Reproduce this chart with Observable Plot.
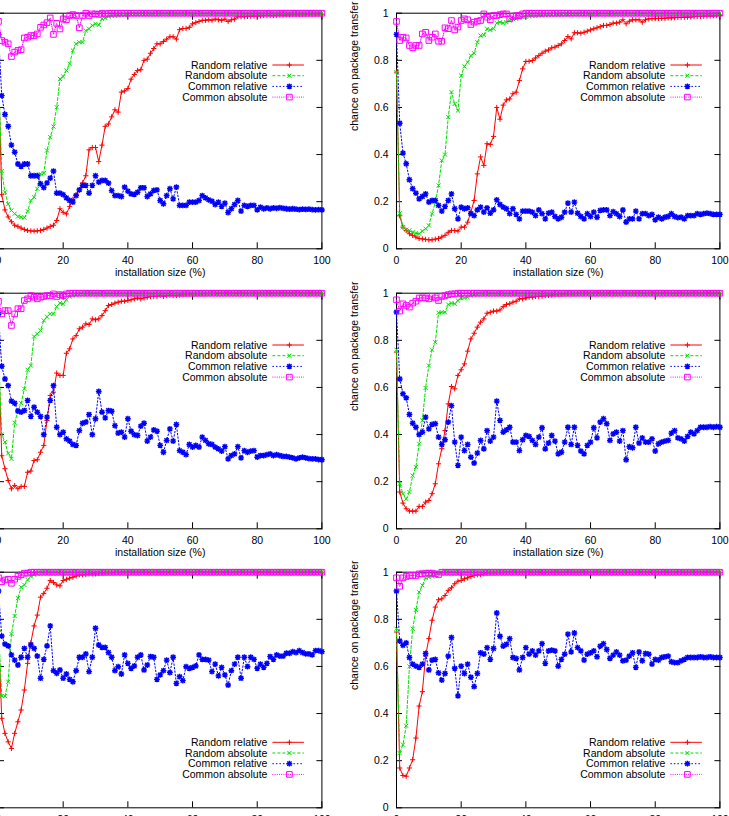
<!DOCTYPE html>
<html><head><meta charset="utf-8">
<script src="https://cdn.jsdelivr.net/npm/d3@7"></script>
<script src="https://cdn.jsdelivr.net/npm/@observablehq/plot@0.6"></script>
<style>
html,body{margin:0;padding:0;background:#fff;overflow:hidden;}
#wrap{position:relative;width:729px;height:816px;overflow:hidden;background:#fff;}
.panel{position:absolute;}
.panel svg{max-width:none !important;background:transparent !important;}
</style></head><body><div id="wrap"></div>
<script>
// ---------- shared labels / ticks ----------
const seriesNames = ["Random relative", "Random absolute", "Common relative", "Common absolute"];
const xTicks = [0, 20, 40, 60, 80, 100];
const yTicks = [0, 0.2, 0.4, 0.6, 0.8, 1];
const xLabel = "installation size (%)";
const yLabel = "chance on package transfer";
const installationSize = d3.range(0, 101); // x = 0..100 %

// ---------- panel 1 (top left) ----------
const p1RandomRelative = [.75,.23,.165,.135,.115,.1,.095,.088,.082,.078,
 .076,.075,.076,.078,.082,.088,.095,.1,.12,.17,
 .155,.148,.18,.21,.23,.25,.28,.31,.42,.43,
 .43,.37,.44,.52,.53,.56,.59,.58,.665,.67,
 .68,.72,.74,.757,.76,.8,.805,.83,.85,.87,
 .87,.88,.89,.9,.9,.89,.93,.935,.935,.94,
 .955,.96,.965,.97,.97,.972,.97,.975,.972,.97,
 .975,.965,.972,.975,.985,.985,.985,.986,.987,.988,
 .988,.989,.99,.99,.99,.99,.991,.992,.992,.993,
 .993,.994,.994,.994,.995,.995,.995,.995,.996,.996,
 .996];
const p1RandomAbsolute = [.75,.33,.24,.19,.163,.149,.137,.134,.132,.16,
 .205,.219,.255,.318,.321,.417,.474,.519,.601,.721,
 .731,.757,.785,.842,.87,.877,.877,.926,.934,.948,
 .955,.95,.976,.98,.985,.988,.99,.99,.992,.993,
 .995,.996,.997,.997,.998,.998,.998,.999,.999,.999,
 1,1,1,1,1,1,1,1,1,1, 1,1,1,1,1,1,1,1,1,1, 1,1,1,1,1,1,1,1,1,1,
 1,1,1,1,1,1,1,1,1,1, 1,1,1,1,1,1,1,1,1,1, 1];
const p1CommonRelative = [.91,.65,.57,.52,.44,.41,.36,.35,.36,.36,
 .31,.31,.31,.276,.26,.28,.3,.33,.236,.236,
 .23,.216,.205,.198,.226,.25,.269,.269,.236,.269,
 .31,.283,.29,.29,.279,.247,.226,.226,.222,.262,
 .245,.233,.231,.24,.259,.259,.222,.233,.248,.25,
 .205,.191,.226,.255,.212,.262,.184,.184,.184,.198,
 .198,.198,.205,.226,.216,.208,.202,.188,.198,.18,
 .194,.154,.17,.188,.205,.16,.184,.18,.184,.184,
 .165,.177,.17,.174,.17,.174,.172,.175,.172,.17,
 .168,.17,.168,.166,.168,.167,.168,.166,.165,.166,
 .165];
const p1CommonAbsolute = [.965,.884,.877,.87,.816,.835,.842,.845,.895,.898,
 .905,.905,.912,.94,.95,.96,.98,.91,.957,.933,
 .976,.972,.99,.994,.99,.938,.99,1,.99,.997,
 .997,.995,1,.997,1,1,1,1,1,1,
 1,1,1,1,1,1,1,1,1,1, 1,1,1,1,1,1,1,1,1,1, 1,1,1,1,1,1,1,1,1,1,
 1,1,1,1,1,1,1,1,1,1, 1,1,1,1,1,1,1,1,1,1, 1,1,1,1,1,1,1,1,1,1, 1];

// ---------- panel 2 (top right) ----------
const p2RandomRelative = [.75,.14,.092,.078,.064,.057,.05,.044,.042,.04,
 .038,.038,.041,.044,.05,.057,.07,.078,.078,.075,
 .092,.092,.113,.156,.205,.318,.39,.354,.446,.443,
 .477,.6,.55,.61,.632,.636,.658,.665,.714,.764,
 .795,.796,.799,.81,.82,.83,.839,.844,.853,.856,
 .863,.87,.884,.901,.891,.917,.917,.915,.919,.924,
 .929,.934,.938,.943,.948,.948,.952,.958,.958,.962,
 .972,.955,.966,.972,.972,.972,.962,.972,.976,.977,
 .977,.978,.978,.979,.98,.98,.981,.982,.982,.983,
 .983,.984,.985,.986,.986,.987,.988,.988,.989,.99,
 .99];
const p2RandomAbsolute = [.75,.151,.092,.081,.078,.071,.066,.064,.075,.085,
 .099,.149,.198,.269,.375,.4,.559,.665,.615,.587,
 .735,.774,.792,.82,.83,.877,.905,.908,.934,.929,
 .934,.958,.962,.958,.962,.969,.976,.976,.98,.983,
 .986,.986,.988,.988,.99,.99,.991,.992,.993,.993,
 .994,.995,.995,.996,.996,.997,.998,.998,.998,.999,
 1,1,1,1,1,1,1,1,1,1, 1,1,1,1,1,1,1,1,1,1, 1,1,1,1,1,1,1,1,1,1,
 1,1,1,1,1,1,1,1,1,1, 1];
const p2CommonRelative = [.91,.533,.406,.361,.293,.255,.236,.212,.222,.233,
 .198,.205,.205,.184,.16,.18,.205,.233,.17,.127,
 .177,.17,.174,.149,.141,.165,.177,.156,.174,.151,
 .165,.208,.188,.177,.17,.149,.17,.146,.127,.16,
 .16,.16,.156,.141,.165,.149,.127,.151,.156,.137,
 .127,.134,.156,.194,.156,.198,.151,.137,.127,.149,
 .137,.156,.134,.163,.165,.165,.141,.158,.149,.137,
 .165,.113,.127,.127,.16,.127,.149,.149,.141,.146,
 .123,.134,.127,.134,.137,.149,.137,.132,.134,.127,
 .141,.141,.141,.149,.146,.149,.151,.149,.146,.146,
 .146];
const p2CommonAbsolute = [.965,.884,.898,.895,.863,.853,.863,.863,.912,.919,
 .884,.898,.912,.881,.881,.938,.934,.969,.929,.941,
 .969,.976,.972,.952,.962,.966,.969,.997,.983,.972,
 .99,.99,.994,.997,.997,.976,.986,.99,.99,.997,
 1,1,1,1,1,1,1,1,1,1, 1,1,1,1,1,1,1,1,1,1, 1,1,1,1,1,1,1,1,1,1,
 1,1,1,1,1,1,1,1,1,1, 1,1,1,1,1,1,1,1,1,1, 1,1,1,1,1,1,1,1,1,1, 1];

// ---------- panel 3 (middle left) ----------
const p3RandomRelative = [.75,.31,.255,.205,.17,.184,.17,.18,.18,.24,
 .245,.29,.293,.325,.354,.46,.566,.58,.661,.651,
 .651,.745,.764,.806,.82,.849,.856,.87,.867,.891,
 .887,.891,.905,.926,.948,.952,.958,.962,.966,.966,
 .969,.972,.976,.98,.976,.98,.983,.986,.986,.987,
 .99,.987,.99,.992,.99,.99,.992,.994,.995,.996,
 .997,.997,.998,.998,.998,.999,.999,.999,1,1,
 1,1,1,1,1,1,1,1,1,1, 1,1,1,1,1,1,1,1,1,1, 1,1,1,1,1,1,1,1,1,1, 1];
const p3RandomAbsolute = [.75,.4,.368,.32,.297,.45,.5,.533,.594,.675,
 .693,.816,.827,.842,.884,.9,.912,.912,.943,.958,
 .955,.972,.986,.99,.994,.997,1,1,1,1,
 1,1,1,1,1,1,1,1,1,1, 1,1,1,1,1,1,1,1,1,1, 1,1,1,1,1,1,1,1,1,1,
 1,1,1,1,1,1,1,1,1,1, 1,1,1,1,1,1,1,1,1,1, 1,1,1,1,1,1,1,1,1,1,
 1,1,1,1,1,1,1,1,1,1, 1];
const p3CommonRelative = [.91,.69,.636,.608,.542,.533,.5,.495,.502,.545,
 .477,.516,.495,.477,.4,.474,.545,.608,.431,.4,
 .41,.382,.372,.358,.354,.417,.448,.453,.485,.4,
 .467,.583,.495,.471,.502,.499,.438,.406,.41,.389,
 .467,.414,.4,.396,.436,.448,.372,.389,.42,.414,
 .354,.325,.375,.424,.372,.443,.332,.325,.315,.358,
 .347,.354,.347,.389,.375,.361,.358,.347,.339,.33,
 .349,.297,.311,.318,.349,.301,.332,.325,.33,.332,
 .304,.311,.311,.315,.318,.311,.315,.311,.307,.307,
 .304,.301,.297,.301,.304,.301,.298,.297,.297,.294,
 .293];
const p3CommonAbsolute = [.965,.912,.926,.926,.863,.912,.934,.934,.969,.976,
 .99,.983,.976,.983,.986,.99,.99,.997,.986,.994,
 .99,.997,1,1,1,1,1,1,1,1,
 1,1,1,1,1,1,1,1,1,1, 1,1,1,1,1,1,1,1,1,1, 1,1,1,1,1,1,1,1,1,1,
 1,1,1,1,1,1,1,1,1,1, 1,1,1,1,1,1,1,1,1,1, 1,1,1,1,1,1,1,1,1,1,
 1,1,1,1,1,1,1,1,1,1, 1];

// ---------- panel 4 (middle right) ----------
const p4RandomRelative = [.75,.156,.109,.085,.075,.075,.075,.095,.095,.113,
 .12,.149,.191,.276,.34,.417,.53,.604,.594,.651,
 .675,.7,.754,.806,.83,.856,.877,.891,.915,.919,
 .924,.924,.929,.943,.952,.955,.962,.966,.976,.976,
 .98,.983,.983,.986,.986,.987,.99,.991,.992,.994,
 .995,.996,.997,.998,.998,.998,.999,.999,.999,1,
 1,1,1,1,1,1,1,1,1,1, 1,1,1,1,1,1,1,1,1,1, 1,1,1,1,1,1,1,1,1,1,
 1,1,1,1,1,1,1,1,1,1, 1];
const p4RandomAbsolute = [.76,.191,.149,.127,.156,.226,.262,.361,.46,.598,
 .693,.76,.792,.917,.919,.919,.952,.958,.955,.969,
 .98,.98,.983,.99,.994,.997,1,1,1,1,
 1,1,1,1,1,1,1,1,1,1, 1,1,1,1,1,1,1,1,1,1, 1,1,1,1,1,1,1,1,1,1,
 1,1,1,1,1,1,1,1,1,1, 1,1,1,1,1,1,1,1,1,1, 1,1,1,1,1,1,1,1,1,1,
 1,1,1,1,1,1,1,1,1,1, 1];
const p4CommonRelative = [.92,.636,.573,.556,.485,.448,.431,.4,.41,.474,
 .424,.443,.446,.389,.358,.378,.453,.523,.368,.269,
 .389,.332,.358,.304,.279,.321,.375,.339,.417,.372,
 .389,.542,.46,.41,.42,.431,.368,.368,.332,.378,
 .396,.392,.375,.358,.389,.429,.339,.364,.396,.372,
 .318,.325,.368,.431,.358,.431,.354,.33,.318,.354,
 .368,.429,.386,.453,.467,.446,.375,.403,.41,.372,
 .417,.293,.349,.344,.431,.364,.386,.368,.368,.382,
 .33,.361,.368,.372,.375,.406,.417,.386,.382,.372,
 .392,.41,.403,.417,.431,.431,.431,.434,.431,.434,
 .431];
const p4CommonAbsolute = [.972,.924,.955,.948,.941,.958,.966,.98,.98,.98,
 .976,.986,.98,.969,.986,.99,.994,.997,.997,1,
 1,1,1,1,1,1,1,1,1,1, 1,1,1,1,1,1,1,1,1,1, 1,1,1,1,1,1,1,1,1,1,
 1,1,1,1,1,1,1,1,1,1, 1,1,1,1,1,1,1,1,1,1, 1,1,1,1,1,1,1,1,1,1,
 1,1,1,1,1,1,1,1,1,1, 1,1,1,1,1,1,1,1,1,1, 1];

// ---------- panel 5 (bottom left) ----------
const p5RandomRelative = [.75,.38,.316,.28,.252,.316,.365,.415,.5,.613,
 .7,.772,.818,.894,.91,.932,.965,.956,.946,.942,
 .965,.97,.975,.979,.984,.989,.989,.99,.993,.993,
 .993,.995,.996,.997,.998,.998,.999,.999,1,1,
 1,1,1,1,1,1,1,1,1,1, 1,1,1,1,1,1,1,1,1,1, 1,1,1,1,1,1,1,1,1,1,
 1,1,1,1,1,1,1,1,1,1, 1,1,1,1,1,1,1,1,1,1, 1,1,1,1,1,1,1,1,1,1, 1];
const p5RandomAbsolute = [.76,.475,.474,.535,.738,.814,.89,.936,.946,.967,
 .982,.989,.996,1,1,1,1,1,1,1,
 1,1,1,1,1,1,1,1,1,1, 1,1,1,1,1,1,1,1,1,1, 1,1,1,1,1,1,1,1,1,1,
 1,1,1,1,1,1,1,1,1,1, 1,1,1,1,1,1,1,1,1,1, 1,1,1,1,1,1,1,1,1,1,
 1,1,1,1,1,1,1,1,1,1, 1,1,1,1,1,1,1,1,1,1, 1];
const p5CommonRelative = [.92,.729,.695,.687,.649,.627,.606,.639,.677,.639,
 .691,.677,.644,.55,.63,.687,.772,.582,.571,.585,
 .55,.568,.545,.535,.582,.639,.639,.653,.578,.639,
 .762,.691,.681,.681,.659,.639,.582,.599,.568,.649,
 .613,.592,.602,.639,.649,.585,.606,.642,.639,.545,
 .564,.582,.627,.574,.639,.528,.557,.54,.599,.592,
 .596,.602,.649,.63,.63,.627,.578,.61,.56,.596,
 .564,.521,.582,.61,.639,.55,.639,.599,.639,.63,
 .592,.61,.596,.613,.642,.63,.649,.644,.644,.656,
 .656,.663,.659,.667,.659,.653,.653,.649,.667,.667,
 .663];
const p5CommonAbsolute = [.976,.96,.967,.97,.953,.97,.982,.989,.996,.996,
 1,1,1,1,1,1,1,1,1,1, 1,1,1,1,1,1,1,1,1,1, 1,1,1,1,1,1,1,1,1,1,
 1,1,1,1,1,1,1,1,1,1, 1,1,1,1,1,1,1,1,1,1, 1,1,1,1,1,1,1,1,1,1,
 1,1,1,1,1,1,1,1,1,1, 1,1,1,1,1,1,1,1,1,1, 1,1,1,1,1,1,1,1,1,1, 1];

// ---------- panel 6 (bottom right) ----------
const p6RandomRelative = [.746,.169,.137,.134,.169,.204,.296,.432,.493,.644,
 .718,.796,.852,.883,.887,.901,.923,.934,.951,.962,
 .965,.972,.976,.982,.986,.989,.99,.993,.996,.997,
 .998,.998,.999,.999,1,1,1,1,1,1,
 1,1,1,1,1,1,1,1,1,1, 1,1,1,1,1,1,1,1,1,1, 1,1,1,1,1,1,1,1,1,1,
 1,1,1,1,1,1,1,1,1,1, 1,1,1,1,1,1,1,1,1,1, 1,1,1,1,1,1,1,1,1,1, 1];
const p6RandomAbsolute = [.76,.232,.268,.348,.6,.76,.84,.915,.944,.976,
 .979,.982,.99,.997,1,1,1,1,1,1,
 1,1,1,1,1,1,1,1,1,1, 1,1,1,1,1,1,1,1,1,1, 1,1,1,1,1,1,1,1,1,1,
 1,1,1,1,1,1,1,1,1,1, 1,1,1,1,1,1,1,1,1,1, 1,1,1,1,1,1,1,1,1,1,
 1,1,1,1,1,1,1,1,1,1, 1,1,1,1,1,1,1,1,1,1, 1];
const p6CommonRelative = [.92,.708,.69,.7,.638,.61,.601,.596,.61,.655,
 .585,.627,.63,.573,.542,.57,.644,.723,.592,.475,
 .601,.57,.61,.554,.514,.57,.658,.652,.68,.63,
 .676,.827,.728,.686,.694,.718,.638,.634,.585,.638,
 .68,.652,.666,.648,.666,.697,.613,.666,.669,.666,
 .601,.63,.652,.737,.662,.742,.68,.666,.627,.652,
 .658,.666,.641,.686,.697,.672,.634,.648,.662,.648,
 .624,.627,.644,.658,.596,.662,.624,.655,.652,.61,
 .63,.627,.638,.641,.644,.62,.616,.616,.624,.63,
 .638,.638,.638,.638,.641,.638,.638,.641,.638,.638,
 .638];
const p6CommonAbsolute = [.976,.94,.976,.982,.986,.986,.986,.993,.993,.996,
 .996,.996,.993,.99,1,1,1,1,1,1,
 1,1,1,1,1,1,1,1,1,1, 1,1,1,1,1,1,1,1,1,1, 1,1,1,1,1,1,1,1,1,1,
 1,1,1,1,1,1,1,1,1,1, 1,1,1,1,1,1,1,1,1,1, 1,1,1,1,1,1,1,1,1,1,
 1,1,1,1,1,1,1,1,1,1, 1,1,1,1,1,1,1,1,1,1, 1];

// ---------- styling ----------
const colors = ["#ff0000", "#00e000", "#0000ff", "#ff00ff"];
const dashes = [null, "3,2", "1.5,2", "1,1.2"];
const symbolKinds = ["plus", "times", "asterisk", "square"];
const markerR = [2.6, 2.4, 2.9, 2.8];
const markerW = [1, 1, 1.4, 1];

const symbols = {
  plus: {draw(c, s) { const r = Math.sqrt(s / Math.PI); c.moveTo(-r, 0); c.lineTo(r, 0); c.moveTo(0, -r); c.lineTo(0, r); }},
  times: {draw(c, s) { const r = Math.sqrt(s / Math.PI) * 0.85; c.moveTo(-r, -r); c.lineTo(r, r); c.moveTo(-r, r); c.lineTo(r, -r); }},
  asterisk: {draw(c, s) { const r = Math.sqrt(s / Math.PI), q = r * 0.75; c.moveTo(-r, 0); c.lineTo(r, 0); c.moveTo(0, -r); c.lineTo(0, r); c.moveTo(-q, -q); c.lineTo(q, q); c.moveTo(-q, q); c.lineTo(q, -q); }},
  square: {draw(c, s) { const r = Math.sqrt(s / Math.PI); c.moveTo(-r, -r); c.lineTo(r, -r); c.lineTo(r, r); c.lineTo(-r, r); c.closePath(); }}
};

const panels = [
  {series: [p1RandomRelative, p1RandomAbsolute, p1CommonRelative, p1CommonAbsolute], col: 0, row: 0, legend: "top"},
  {series: [p2RandomRelative, p2RandomAbsolute, p2CommonRelative, p2CommonAbsolute], col: 1, row: 0, legend: "top"},
  {series: [p3RandomRelative, p3RandomAbsolute, p3CommonRelative, p3CommonAbsolute], col: 0, row: 1, legend: "top"},
  {series: [p4RandomRelative, p4RandomAbsolute, p4CommonRelative, p4CommonAbsolute], col: 1, row: 1, legend: "top"},
  {series: [p5RandomRelative, p5RandomAbsolute, p5CommonRelative, p5CommonAbsolute], col: 0, row: 2, legend: "bottom"},
  {series: [p6RandomRelative, p6RandomAbsolute, p6CommonRelative, p6CommonAbsolute], col: 1, row: 2, legend: "bottom"}
];

// ---------- layout ----------
const W = 396, H = 280, ML = 60, MR = 12.6, MT = 12.7, MB = 31.7;
const colLeft = [-62.4, 336];
const rowTop = [0, 280, 559.3];
const font = "'Liberation Sans', Arial, Helvetica, sans-serif";

function symPath(kind, r) { const p = d3.path(); symbols[kind].draw(p, Math.PI * r * r); return p.toString(); }

const wrap = document.getElementById("wrap");
panels.forEach(panel => {
  const marks = [
    Plot.frame({stroke: "#000", strokeWidth: 1}),
    Plot.axisX({anchor: "bottom", ticks: xTicks, tickSize: -6, tickFormat: () => "", label: null}),
    Plot.axisX({anchor: "top", ticks: xTicks, tickSize: -6, tickFormat: () => "", label: null}),
    Plot.axisX({anchor: "bottom", ticks: xTicks, tickSize: 0, tickPadding: 8, label: null}),
    Plot.axisY({anchor: "left", ticks: yTicks, tickSize: -6, tickFormat: () => "", label: null}),
    Plot.axisY({anchor: "right", ticks: yTicks, tickSize: -6, tickFormat: () => "", label: null}),
    Plot.axisY({anchor: "left", ticks: yTicks, tickSize: 0, tickPadding: 8, tickFormat: d3.format("~g"), label: null}),
    Plot.text([xLabel], {text: d => d, frameAnchor: "bottom", dy: 27.5}),
    Plot.text([yLabel], {text: d => d, frameAnchor: "left", dx: -42, rotate: -90})
  ];
  panel.series.forEach((vals, i) => {
    const data = vals.map((v, k) => ({x: installationSize[k], y: v}));
    marks.push(Plot.line(data, {x: "x", y: "y", stroke: colors[i], strokeWidth: 1, strokeDasharray: dashes[i]}));
    marks.push(Plot.dot(data, {x: "x", y: "y", symbol: symbols[symbolKinds[i]], r: markerR[i], stroke: colors[i], fill: "none", strokeWidth: markerW[i]}));
  });
  const svg = Plot.plot({
    width: W, height: H, marginLeft: ML, marginRight: MR, marginTop: MT, marginBottom: MB,
    x: {domain: [0, 100]}, y: {domain: [0, 1]},
    style: {fontFamily: font, fontSize: "10.5px", color: "#000", background: "transparent", overflow: "visible"},
    marks
  });
  // legend (key) in gnuplot style
  const fr = W - MR;
  const baseY = panel.legend === "top" ? MT + 52.3 : H - MB - 65;
  const g = d3.select(svg).append("g").attr("font-family", font).attr("font-size", 10.5);
  seriesNames.forEach((name, i) => {
    const y = baseY + i * 10.7;
    g.append("text").attr("x", fr - 54).attr("y", y).attr("dy", "0.35em").attr("text-anchor", "end").attr("fill", "#000").text(name);
    const ln = g.append("line").attr("x1", fr - 49).attr("x2", fr - 17.5).attr("y1", y).attr("y2", y).attr("stroke", colors[i]).attr("stroke-width", 1);
    if (dashes[i]) ln.attr("stroke-dasharray", dashes[i]);
    g.append("path").attr("transform", `translate(${fr - 32},${y})`).attr("d", symPath(symbolKinds[i], markerR[i])).attr("fill", "none").attr("stroke", colors[i]).attr("stroke-width", markerW[i]);
  });
  const div = document.createElement("div");
  div.className = "panel";
  div.style.left = colLeft[panel.col] + "px";
  div.style.top = rowTop[panel.row] + "px";
  div.style.width = W + "px";
  div.style.height = H + "px";
  div.appendChild(svg);
  wrap.appendChild(div);
});
</script>
</body></html>
